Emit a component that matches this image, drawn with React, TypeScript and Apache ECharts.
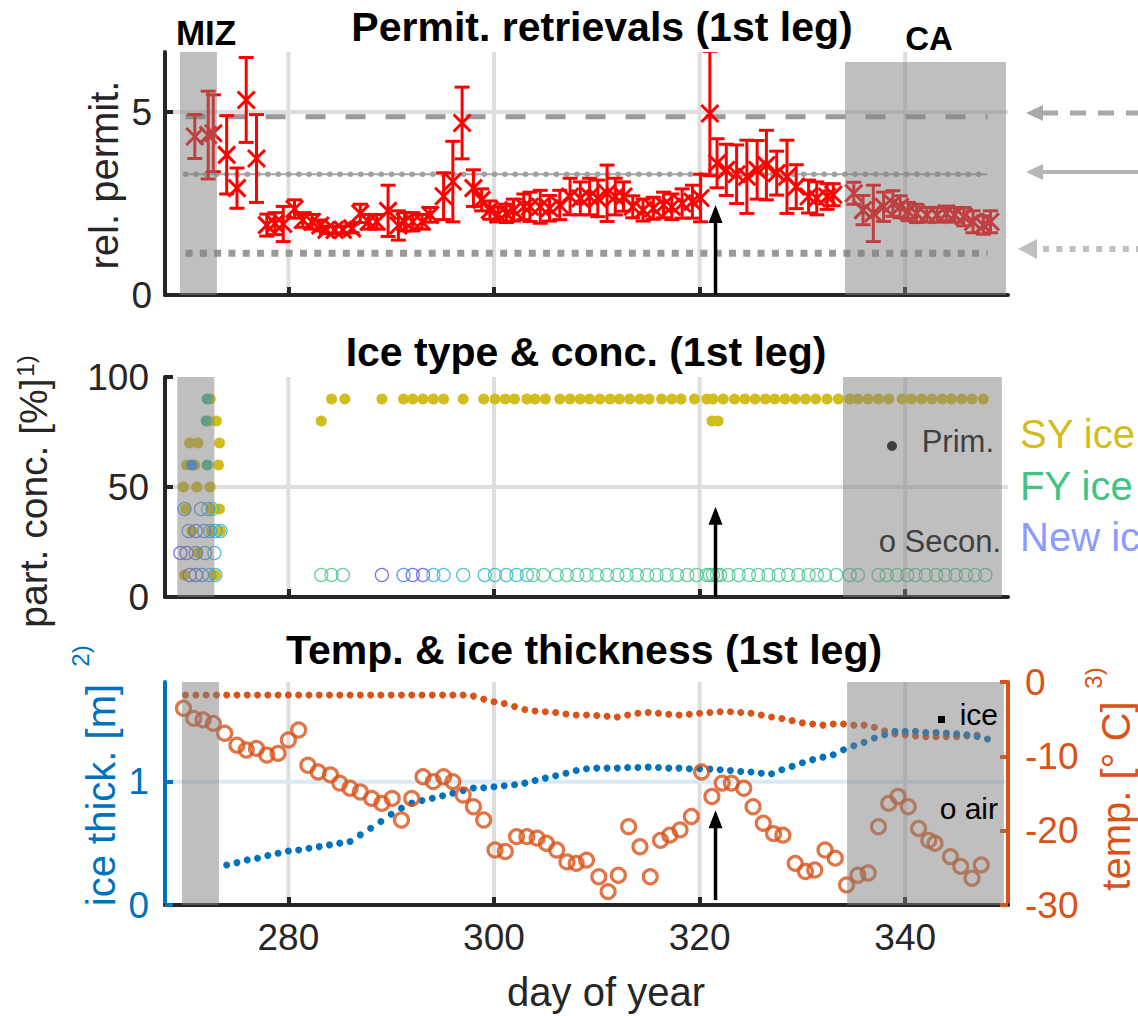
import React, { useEffect, useRef } from 'react';
import * as echarts from 'echarts';

// ---------- shared axis ----------
const X_MIN = 268;
const X_MAX = 350;
const xTicks = [280, 300, 320, 340];

// ---------- panel 1: permittivity ----------
const permDays = [270.9, 272.2, 272.7, 274.0, 275.0, 275.9, 276.9, 277.9, 278.7, 279.5, 280.6, 281.4, 282.3, 283.1, 283.7, 284.5, 285.3, 286.2, 287.0, 287.8, 288.6, 289.7, 290.7, 291.3, 292.1, 293.0, 293.8, 295.1, 296.0, 296.9, 298.0, 298.8, 299.6, 300.4, 301.2, 301.9, 302.9, 303.5, 304.5, 305.4, 306.4, 307.4, 308.4, 309.3, 310.1, 311.0, 311.8, 312.6, 313.5, 314.5, 315.5, 316.5, 317.3, 318.3, 319.3, 320.1, 321.0, 321.7, 322.6, 323.6, 324.6, 325.6, 326.5, 327.5, 328.5, 329.4, 330.6, 331.4, 332.4, 333.0, 335.0, 335.9, 336.9, 337.9, 338.8, 339.5, 340.3, 341.1, 342.1, 343.1, 344.0, 344.8, 345.7, 346.6, 347.6, 348.3];
const permVals = [4.33, 4.37, 4.42, 3.83, 2.92, 5.33, 3.73, 1.91, 1.95, 1.94, 2.35, 2.05, 2.0, 1.9, 1.78, 1.78, 1.78, 1.82, 2.23, 2.0, 2.0, 2.3, 1.9, 2.0, 2.0, 2.0, 2.19, 2.7, 3.1, 4.7, 2.92, 2.6, 2.32, 2.2, 2.23, 2.32, 2.41, 2.41, 2.41, 2.37, 2.46, 2.69, 2.64, 2.69, 2.64, 2.78, 2.69, 2.69, 2.41, 2.32, 2.37, 2.46, 2.41, 2.5, 2.55, 2.65, 4.96, 3.6, 3.42, 3.3, 3.23, 3.42, 3.55, 3.33, 3.23, 2.96, 2.69, 2.64, 2.69, 2.74, 2.78, 2.32, 2.23, 2.41, 2.5, 2.41, 2.28, 2.23, 2.19, 2.19, 2.23, 2.19, 2.14, 2.0, 1.91, 2.0];
const permErr = [0.6, 1.2, 1.05, 1.07, 0.55, 1.16, 1.2, 0.3, 0.3, 0.48, 0.25, 0.2, 0.2, 0.15, 0.1, 0.1, 0.1, 0.12, 0.25, 0.2, 0.2, 0.7, 0.4, 0.25, 0.25, 0.2, 0.2, 0.64, 1.1, 0.98, 0.5, 0.3, 0.25, 0.2, 0.25, 0.3, 0.35, 0.4, 0.45, 0.35, 0.4, 0.5, 0.45, 0.5, 0.5, 0.77, 0.5, 0.4, 0.3, 0.3, 0.3, 0.35, 0.35, 0.4, 0.45, 0.65, 1.7, 0.67, 0.7, 0.8, 1.0, 0.8, 0.95, 0.6, 1.0, 0.6, 0.45, 0.45, 0.35, 0.3, 0.3, 0.4, 0.77, 0.4, 0.35, 0.3, 0.25, 0.25, 0.2, 0.2, 0.2, 0.2, 0.25, 0.3, 0.25, 0.3];
const refLineDays = [270, 348];
const refDashed = 4.87;
const refDotted = 3.3;
const refSquare = 1.14;
const permYTicks = [0, 5];
const PERM_MAX = 6.64;

// ---------- panel 2: ice type ----------
const syPrimary = [
  [272.4, 90], [272.2, 80], [273.0, 80], [270.4, 70], [271.2, 70], [273.3, 70], [270.1, 60], [270.9, 60], [273.2, 60],
  [269.8, 50], [271.1, 50], [272.4, 50], [270.0, 40], [272.6, 40], [273.3, 40], [270.6, 30], [272.5, 30], [273.4, 30],
  [271.2, 20], [269.9, 10], [272.9, 10],
  [283.2, 80], [284.2, 90], [285.5, 90], [289.1, 90], [291.2, 90], [292.1, 90], [293.1, 90], [294.1, 90], [295.1, 90],
  [297.0, 90], [299.0, 90], [300.1, 90], [301.1, 90], [302.0, 90], [303.2, 90], [304.0, 90], [305.0, 90], [306.4, 90],
  [307.4, 90], [308.4, 90], [309.3, 90], [310.3, 90], [311.3, 90], [312.2, 90], [313.2, 90], [314.2, 90], [315.1, 90],
  [316.3, 90], [317.3, 90], [318.2, 90], [319.5, 90], [320.7, 90], [321.2, 80], [321.8, 80], [321.3, 90], [322.3, 90],
  [323.4, 90], [324.4, 90], [325.4, 90], [326.4, 90], [327.3, 90], [328.3, 90], [329.3, 90], [330.3, 90], [331.3, 90],
  [332.4, 90], [333.5, 90], [334.6, 90], [335.4, 90], [336.4, 90], [337.4, 90], [338.4, 90], [339.7, 90], [340.6, 90],
  [341.6, 90], [342.6, 90], [343.6, 90], [344.5, 90], [345.5, 90], [346.5, 90], [347.6, 90],
];
const fyPrimary = [[272.1, 90], [272.0, 80], [272.1, 60]];
const newPrimary = [[270.6, 60]];
const newSecondary = [[269.5, 20], [270.1, 20], [270.4, 10], [271.0, 10], [271.0, 30], [289.1, 10], [292.1, 10], [293.1, 10]];
const blueSecondary = [[269.9, 40], [271.5, 40], [270.3, 30], [271.8, 30], [271.0, 20], [271.9, 20], [271.6, 10], [291.2, 10]];
const cyanSecondary = [[272.2, 40], [272.4, 30], [272.9, 30], [273.4, 30], [272.8, 20], [272.3, 10], [272.9, 10], [294.1, 10], [295.1, 10]];
const tealSecondary = [[297.0, 10], [299.1, 10], [300.1, 10], [301.2, 10], [302.2, 10], [303.2, 10]];
const fySecondary = [
  [272.6, 40], [283.2, 10], [284.2, 10], [285.3, 10], [303.8, 10], [304.8, 10], [306.1, 10], [307.1, 10], [308.1, 10],
  [309.0, 10], [310.0, 10], [311.0, 10], [312.0, 10], [312.9, 10], [313.9, 10], [314.9, 10], [315.8, 10], [316.8, 10],
  [317.8, 10], [318.8, 10], [319.7, 10], [320.7, 10], [321.0, 10], [321.3, 10], [321.7, 10], [322.0, 10], [322.8, 10],
  [323.8, 10], [324.8, 10], [325.7, 10], [326.7, 10], [327.7, 10], [328.6, 10], [329.6, 10], [330.6, 10], [331.4, 10],
  [332.2, 10], [333.3, 10], [334.6, 10], [335.4, 10], [337.4, 10], [338.2, 10], [339.2, 10], [340.2, 10], [341.0, 10],
  [342.0, 10], [343.0, 10], [343.9, 10], [344.9, 10], [345.9, 10], [346.8, 10], [347.8, 10],
];

// ---------- panel 3: temperature & thickness ----------
const iceThickDays = [274, 275, 276, 277, 278, 279, 280, 281, 282, 283, 284, 285, 286, 287, 288, 289, 290, 291, 292, 293, 294, 295, 296, 297, 298, 299, 300, 301, 302, 303, 304, 305, 306, 307, 308, 309, 310, 311, 312, 313, 314, 315, 316, 317, 318, 319, 320, 321, 322, 323, 324, 325, 326, 327, 328, 329, 330, 331, 332, 333, 334, 335, 336, 337, 338, 339, 340, 341, 342, 343, 344, 345, 346, 347, 348];
const iceThick = [0.325, 0.344, 0.366, 0.38, 0.402, 0.42, 0.439, 0.447, 0.461, 0.474, 0.488, 0.502, 0.515, 0.569, 0.623, 0.678, 0.737, 0.786, 0.827, 0.848, 0.867, 0.886, 0.908, 0.93, 0.949, 0.952, 0.96, 0.968, 0.976, 0.989, 1.011, 1.03, 1.049, 1.07, 1.092, 1.106, 1.111, 1.111, 1.111, 1.116, 1.116, 1.119, 1.116, 1.111, 1.111, 1.106, 1.106, 1.103, 1.098, 1.092, 1.084, 1.079, 1.07, 1.065, 1.098, 1.125, 1.155, 1.18, 1.2, 1.22, 1.26, 1.293, 1.32, 1.355, 1.382, 1.409, 1.409, 1.409, 1.4, 1.4, 1.395, 1.39, 1.382, 1.368, 1.347];
const iceTempDays = [270, 271, 272, 273, 274, 275, 276, 277, 278, 279, 280, 281, 282, 283, 284, 285, 286, 287, 288, 289, 290, 291, 292, 293, 294, 295, 296, 297, 298, 299, 300, 301, 302, 303, 304, 305, 306, 307, 308, 309, 310, 311, 312, 313, 314, 315, 316, 317, 318, 319, 320, 321, 322, 323, 324, 325, 326, 327, 328, 329, 330, 331, 332, 333, 334, 335, 336, 337, 338, 339, 340, 341, 342, 343, 344, 345, 346, 347];
const iceTemp = [-1.75, -1.75, -1.75, -1.75, -1.75, -1.75, -1.75, -1.75, -1.75, -1.75, -1.75, -1.75, -1.75, -1.75, -1.75, -1.75, -1.75, -1.75, -1.75, -1.75, -1.75, -1.75, -1.75, -1.75, -1.75, -1.75, -1.75, -1.75, -1.9, -2.3, -2.65, -2.9, -3.3, -3.7, -3.9, -4.0, -4.1, -4.3, -4.45, -4.45, -4.5, -4.6, -4.7, -4.45, -4.2, -4.1, -4.2, -4.35, -4.45, -4.35, -4.2, -4.1, -4.0, -4.0, -4.1, -4.2, -4.45, -4.7, -4.9, -5.2, -5.5, -5.65, -5.8, -5.65, -5.65, -5.8, -5.8, -6.1, -6.55, -7.0, -7.13, -7.27, -7.36, -7.36, -7.36, -7.36, -7.27, -7.13];
const airTemp = [
  [269.8, -3.54], [270.8, -4.89], [271.7, -5.1], [272.7, -5.56], [273.8, -6.9], [275.0, -8.5], [275.9, -9.15], [276.9, -8.93],
  [277.9, -9.83], [279.0, -9.6], [280.0, -7.8], [281.0, -6.46], [281.9, -11.2], [282.9, -12.1], [284.1, -12.5], [285.0, -13.6],
  [286.0, -14.3], [287.0, -14.8], [288.1, -15.66], [289.1, -16.33], [290.1, -15.66], [291.0, -18.57], [292.0, -15.66],
  [293.1, -12.74], [294.1, -13.4], [295.1, -12.74], [296.0, -13.4], [297.0, -15.2], [298.0, -16.78], [299.0, -18.57],
  [300.1, -22.6], [301.1, -22.8], [302.2, -20.8], [303.2, -20.8], [304.2, -21.0], [305.1, -21.7], [306.1, -22.6],
  [307.1, -24.2], [308.0, -24.4], [309.0, -23.96], [310.2, -26.2], [311.1, -28.2], [312.1, -26.0], [313.1, -19.47],
  [314.2, -22.16], [315.2, -26.2], [316.2, -21.3], [317.1, -20.6], [318.1, -19.9], [319.2, -18.1], [320.2, -12.1],
  [321.2, -15.4], [322.2, -13.6], [323.1, -13.6], [324.3, -14.3], [325.2, -16.78], [326.2, -19.0], [327.2, -20.4],
  [328.1, -20.6], [329.3, -24.4], [330.3, -25.5], [331.2, -25.3], [332.2, -22.6], [333.2, -23.7], [334.3, -27.3],
  [335.4, -26.0], [336.4, -25.7], [337.4, -19.47], [338.4, -16.33], [339.3, -15.4], [340.3, -16.78], [341.3, -19.7],
  [342.3, -21.3], [342.9, -21.7], [344.4, -23.5], [345.4, -24.8], [346.5, -26.4], [347.4, -24.6],
];
const THICK_MAX = 1.81;

// ---------- regions & arrows ----------
const bandsTop = [[269.45, 273.05, 6.64], [334.15, 349.8, 6.37]];
const bandsMid = [[269.2, 272.8, 100], [333.95, 349.4, 100]];
const bandsBot = [[269.65, 273.25, 1.81], [334.35, 349.6, 1.81]];
const arrowTop = [[321.55, 0, 2.46]];
const arrowMid = [[321.55, 0, 41]];
const arrowBot = [[321.55, 0.04, 0.77]];

const FONT = '"Liberation Sans", Arial, Helvetica, sans-serif';
const AX = '#262626';
const BLUE = '#0072BD';
const ORANGE = '#D95319';
const SY = '#D2BD1E';
const FY = '#40C484';
const TICK_FS = 37;
const LABEL_FS = 40;

function gridLines(xi: number, yi: number, hVals: number[], hColor: string) {
  return {
    type: 'custom', xAxisIndex: xi, yAxisIndex: yi, z: 0, silent: true,
    data: [[X_MIN, 0]],
    renderItem: (params: any, api: any) => {
      const cs = params.coordSys;
      const children: any[] = [];
      xTicks.forEach((v) => {
        const px = api.coord([v, 0])[0];
        children.push({ type: 'line', shape: { x1: px, y1: cs.y, x2: px, y2: cs.y + cs.height }, style: { stroke: '#DEDEDE', lineWidth: 4 } });
      });
      hVals.forEach((v) => {
        const py = api.coord([X_MIN, v])[1];
        children.push({ type: 'line', shape: { x1: cs.x, y1: py, x2: cs.x + cs.width, y2: py }, style: { stroke: hColor, lineWidth: 4 } });
      });
      return { type: 'group', children };
    },
  };
}

function bands(xi: number, yi: number, data: number[][]) {
  return {
    type: 'custom', xAxisIndex: xi, yAxisIndex: yi, z: 10, silent: true, data,
    renderItem: (params: any, api: any) => {
      const cs = params.coordSys;
      const p0 = api.coord([api.value(0), api.value(2)]);
      const p1 = api.coord([api.value(1), api.value(2)]);
      const top = Math.max(p0[1], cs.y);
      return { type: 'rect', shape: { x: p0[0], y: top, width: p1[0] - p0[0], height: cs.y + cs.height - top }, style: { fill: 'rgba(128,128,128,0.5)' } };
    },
  };
}

function arrow(xi: number, yi: number, data: number[][]) {
  return {
    type: 'custom', xAxisIndex: xi, yAxisIndex: yi, z: 11, silent: true, data,
    renderItem: (params: any, api: any) => {
      const p0 = api.coord([api.value(0), api.value(1)]);
      const p1 = api.coord([api.value(0), api.value(2)]);
      const hl = 18, hw = 7;
      return {
        type: 'group', children: [
          { type: 'line', shape: { x1: p0[0], y1: p0[1], x2: p1[0], y2: p1[1] + hl - 1 }, style: { stroke: '#000', lineWidth: 3.5 } },
          { type: 'polygon', shape: { points: [[p1[0], p1[1]], [p1[0] - hw, p1[1] + hl], [p1[0] + hw, p1[1] + hl]] }, style: { fill: '#000' } },
        ],
      };
    },
  };
}

function txt(x: number, y: number, text: string, size: number, color: string, opts: any = {}) {
  const align = opts.align || 'center';
  return {
    type: 'text', x, y, rotation: opts.rotation || 0, silent: true, z: 20,
    style: {
      text, fill: color, fontSize: size, fontFamily: FONT, fontWeight: opts.bold ? 'bold' : 'normal',
      align, textAlign: align, verticalAlign: 'middle', textVerticalAlign: 'middle',
    },
  };
}

function xAxis(i: number, labels: boolean) {
  return {
    gridIndex: i, type: 'value', min: X_MIN, max: X_MAX,
    axisLine: { show: true, lineStyle: { color: AX, width: 4 } },
    axisTick: { show: true, inside: true, length: 8, customValues: xTicks, lineStyle: { color: AX, width: 4 } },
    axisLabel: { show: labels, customValues: xTicks, fontSize: TICK_FS, color: AX, margin: 14, fontFamily: FONT },
    splitLine: { show: false },
  };
}

function scatter(data: number[][], color: string, size: number, hollow: boolean, xi = 1, yi = 1, bw = 1.3) {
  return {
    type: 'scatter', xAxisIndex: xi, yAxisIndex: yi, data, symbol: 'circle', symbolSize: size, silent: true, z: 3,
    itemStyle: hollow ? { color: 'transparent', borderColor: color, borderWidth: bw } : { color, opacity: 1 },
  };
}

const option: any = {
  animation: false,
  backgroundColor: '#fff',
  textStyle: { fontFamily: FONT },
  grid: [
    { left: 165, top: 52, width: 843, height: 243 },
    { left: 165, top: 377, width: 843, height: 220 },
    { left: 165, top: 682, width: 843, height: 223 },
  ],
  xAxis: [xAxis(0, false), xAxis(1, false), xAxis(2, true)],
  yAxis: [
    {
      gridIndex: 0, type: 'value', min: 0, max: PERM_MAX,
      axisLine: { show: true, lineStyle: { color: AX, width: 4 } },
      axisTick: { show: true, inside: true, length: 8, customValues: permYTicks, lineStyle: { color: AX, width: 4 } },
      axisLabel: { customValues: permYTicks, fontSize: TICK_FS, color: AX, margin: 13, fontFamily: FONT },
      splitLine: { show: false },
    },
    {
      gridIndex: 1, type: 'value', min: 0, max: 100, interval: 50,
      axisLine: { show: true, lineStyle: { color: AX, width: 4 } },
      axisTick: { show: true, inside: true, length: 8, lineStyle: { color: AX, width: 4 } },
      axisLabel: { fontSize: TICK_FS, color: AX, margin: 16, fontFamily: FONT },
      splitLine: { show: false },
    },
    {
      gridIndex: 2, type: 'value', min: 0, max: THICK_MAX,
      axisLine: { show: true, lineStyle: { color: BLUE, width: 4 } },
      axisTick: { show: true, inside: true, length: 8, customValues: [0, 1], lineStyle: { color: BLUE, width: 4 } },
      axisLabel: { customValues: [0, 1], fontSize: TICK_FS, color: BLUE, margin: 16, fontFamily: FONT },
      splitLine: { show: false },
    },
    {
      gridIndex: 2, type: 'value', position: 'right', min: -30, max: 0, interval: 10,
      axisLine: { show: true, lineStyle: { color: ORANGE, width: 4 } },
      axisTick: { show: true, inside: true, length: 8, lineStyle: { color: ORANGE, width: 4 } },
      axisLabel: { fontSize: TICK_FS, color: ORANGE, margin: 17, fontFamily: FONT },
      splitLine: { show: false },
    },
  ],
  series: [
    // panel 1
    gridLines(0, 0, [5], '#DEDEDE'),
    {
      type: 'line', xAxisIndex: 0, yAxisIndex: 0, z: 2, silent: true, symbol: 'none',
      data: refLineDays.map((d) => [d, refDashed]),
      lineStyle: { color: '#9A9A9A', width: 5, type: [20, 20] },
    },
    {
      type: 'line', xAxisIndex: 0, yAxisIndex: 0, z: 2, silent: true, symbol: 'none',
      data: refLineDays.map((d) => [d, refDotted]),
      lineStyle: { color: '#A6A6A6', width: 2 },
    },
    {
      type: 'line', xAxisIndex: 0, yAxisIndex: 0, z: 2, silent: true, symbol: 'none',
      data: refLineDays.map((d) => [d, refDotted]),
      lineStyle: { color: '#A0A0A0', width: 5.5, type: [0.1, 10.2], cap: 'round' },
    },
    {
      type: 'line', xAxisIndex: 0, yAxisIndex: 0, z: 2, silent: true, symbol: 'none',
      data: refLineDays.map((d) => [d, refSquare]),
      lineStyle: { color: '#9A9A9A', width: 7, type: [7, 7.3] },
    },
    {
      type: 'custom', xAxisIndex: 0, yAxisIndex: 0, z: 4, silent: true, clip: true,
      data: permDays.map((d, i) => [d, permVals[i], permErr[i]]),
      renderItem: (params: any, api: any) => {
        const x = api.value(0), v = api.value(1), e = api.value(2);
        const c = api.coord([x, v]);
        const t = api.coord([x, v + e]);
        const b = api.coord([x, v - e]);
        const cap = 7.5, m = 8.5;
        const st = { stroke: '#FF0000', lineWidth: 3 };
        return {
          type: 'group', children: [
            { type: 'line', shape: { x1: c[0], y1: t[1], x2: c[0], y2: b[1] }, style: st },
            { type: 'line', shape: { x1: c[0] - cap, y1: t[1], x2: c[0] + cap, y2: t[1] }, style: st },
            { type: 'line', shape: { x1: c[0] - cap, y1: b[1], x2: c[0] + cap, y2: b[1] }, style: st },
            { type: 'line', shape: { x1: c[0] - m, y1: c[1] - m, x2: c[0] + m, y2: c[1] + m }, style: st },
            { type: 'line', shape: { x1: c[0] - m, y1: c[1] + m, x2: c[0] + m, y2: c[1] - m }, style: st },
          ],
        };
      },
    },
    bands(0, 0, bandsTop),
    arrow(0, 0, arrowTop),
    // panel 2
    gridLines(1, 1, [50], '#DEDEDE'),
    scatter(syPrimary, SY, 11, false),
    scatter(fyPrimary, '#3FBF8A', 11, false),
    scatter(newPrimary, '#3B8EE6', 11, false),
    scatter(newSecondary, '#5A50E6', 13, true),
    scatter(blueSecondary, '#3F7FE8', 13, true),
    scatter(cyanSecondary, '#22AEE0', 13, true),
    scatter(tealSecondary, '#24B8B8', 13, true),
    scatter(fySecondary, FY, 13, true),
    bands(1, 1, bandsMid),
    arrow(1, 1, arrowMid),
    // panel 3
    gridLines(2, 2, [1], '#D9EAF5'),
    scatter(iceTempDays.map((d, i) => [d, iceTemp[i]]), ORANGE, 7, false, 2, 3),
    scatter(iceThickDays.map((d, i) => [d, iceThick[i]]), BLUE, 7, false, 2, 2),
    scatter(airTemp, ORANGE, 14, true, 2, 3, 3.2),
    bands(2, 2, bandsBot),
    arrow(2, 2, arrowBot),
  ],
  graphic: [
    // titles
    txt(602, 27, 'Permit. retrievals (1st leg)', 41, '#000', { bold: true }),
    txt(586, 352, 'Ice type & conc. (1st leg)', 41, '#000', { bold: true }),
    txt(584, 650, 'Temp. & ice thickness (1st leg)', 41, '#000', { bold: true }),
    txt(206, 32, 'MIZ', 35, '#000', { bold: true }),
    txt(929, 38, 'CA', 33, '#000', { bold: true }),
    // axis labels
    txt(104, 175, 'rel. permit.', LABEL_FS, AX, { rotation: Math.PI / 2 }),
    txt(33, 503, 'part. conc. [%]', 39, AX, { rotation: Math.PI / 2 }),
    txt(25, 366, '1)', 24, AX, { rotation: Math.PI / 2 }),
    txt(101, 795, 'ice thick. [m]', LABEL_FS, BLUE, { rotation: Math.PI / 2 }),
    txt(80, 656, '2)', 24, BLUE, { rotation: Math.PI / 2 }),
    txt(1116, 796, 'temp. [° C]', LABEL_FS, ORANGE, { rotation: Math.PI / 2 }),
    txt(1093, 678, '3)', 24, ORANGE, { rotation: Math.PI / 2 }),
    txt(606, 992, 'day of year', 40, AX),
    // middle legend
    txt(1020, 434, 'SY ice', 40, SY, { align: 'left' }),
    txt(1020, 486, 'FY ice', 40, FY, { align: 'left' }),
    txt(1020, 537, 'New ice', 40, '#8C9BFF', { align: 'left' }),
    txt(994, 441, 'Prim.', 31, '#404040', { align: 'right' }),
    { type: 'circle', shape: { cx: 892, cy: 446, r: 5 }, style: { fill: '#404040' }, z: 20, silent: true },
    txt(1001, 541, 'o Secon.', 31, '#404040', { align: 'right' }),
    // bottom legend
    txt(998, 714, 'ice', 30, '#000', { align: 'right' }),
    { type: 'rect', shape: { x: 938, y: 716, width: 7, height: 7 }, style: { fill: '#000' }, z: 20, silent: true },
    txt(998, 808, 'o air', 30, '#000', { align: 'right' }),
    // right-side reference arrows
    { type: 'line', shape: { x1: 1042, y1: 113, x2: 1138, y2: 113 }, style: { stroke: '#A9A9A9', lineWidth: 5, lineDash: [16, 12] }, silent: true },
    { type: 'polygon', shape: { points: [[1026, 113], [1043, 105], [1043, 121]] }, style: { fill: '#A9A9A9' }, silent: true },
    { type: 'line', shape: { x1: 1042, y1: 172, x2: 1138, y2: 172 }, style: { stroke: '#B5B5B5', lineWidth: 4 }, silent: true },
    { type: 'polygon', shape: { points: [[1026, 172], [1043, 164], [1043, 180]] }, style: { fill: '#B5B5B5' }, silent: true },
    { type: 'line', shape: { x1: 1043, y1: 249, x2: 1138, y2: 249 }, style: { stroke: '#C0C0C0', lineWidth: 6, lineDash: [6, 7.3] }, silent: true },
    { type: 'polygon', shape: { points: [[1018, 249], [1037, 239], [1037, 259]] }, style: { fill: '#C0C0C0' }, silent: true },
  ],
};

export default function App() {
  const ref = useRef<HTMLDivElement>(null);
  useEffect(() => {
    const chart = echarts.init(ref.current as HTMLDivElement, null, { renderer: 'svg' });
    chart.setOption(option);
    return () => chart.dispose();
  }, []);
  return <div ref={ref} style={{ position: 'fixed', left: 0, top: 0, width: 1138, height: 1016, background: '#fff' }} />;
}
